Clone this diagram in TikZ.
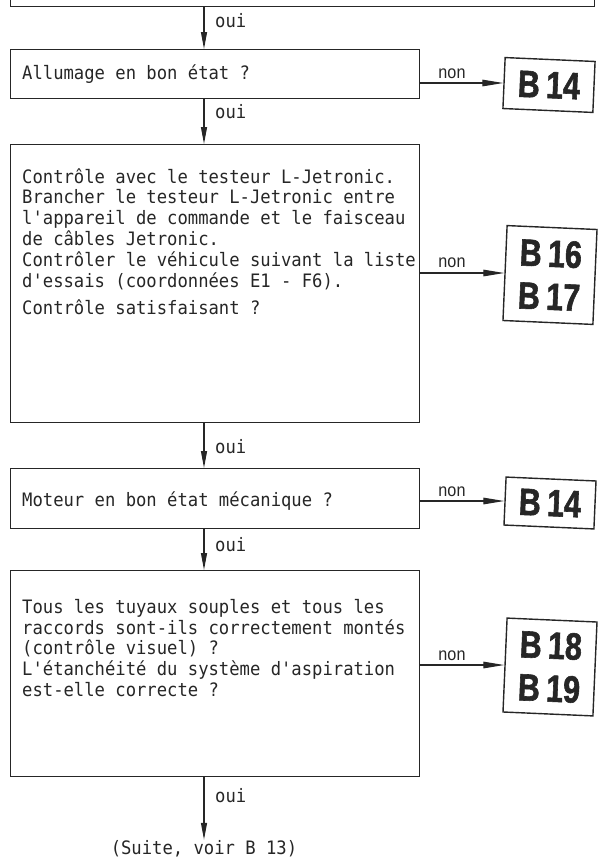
\documentclass[tikz,border=0pt]{standalone}
\usepackage{fontspec}
\setmonofont[FakeStretch=0.93]{DejaVu Sans Mono}
\newfontfamily\reffont[FakeStretch=0.8, FakeBold=1.5]{Liberation Sans Bold}
\newfontfamily\nonfont[FakeStretch=0.9]{Liberation Sans}
\usetikzlibrary{arrows.meta}
\definecolor{encre}{HTML}{262626}

\begin{document}
\begin{tikzpicture}[x=1pt, y=-1pt,
    every node/.style={text=encre},
    boite/.style={draw=encre, line width=1.2pt, rectangle, anchor=north west, minimum width=409pt, inner sep=0pt},
    texte/.style={font=\ttfamily\fontsize{18.5}{20.8}\selectfont, align=left, inner sep=0pt},
    renvoi/.style={draw=encre, line width=1.4pt, rotate=-2.5, minimum width=90pt, inner sep=0pt,
        font=\reffont\fontsize{38}{43}\selectfont, align=center},
    fleche/.style={draw=encre, line width=1.2pt, -{Triangle[length=17pt,width=6pt]}},
    flechenon/.style={draw=encre, line width=1.2pt, -{Triangle[length=21pt,width=6.5pt]}},
    oui/.style={font=\ttfamily\fontsize{18.5}{20}\selectfont, anchor=base west, inner sep=0pt},
    non/.style={font=\nonfont\fontsize{18}{20}\selectfont, anchor=base, inner sep=0pt}]

    \useasboundingbox (0,0) rectangle (604,860);
    \coordinate (axe) at (204,0);

    % boite precedente (coupee en haut)
    \node[boite, minimum width=584pt, minimum height=50pt] (prec) at (10,-44) {};

    % les questions
    \node[boite, minimum height=49pt] (q1) at (10,49) {};
    \node[texte, anchor=base west] (t1) at (22,79) {Allumage en bon état ?};

    \node[boite, minimum height=278pt] (q2) at (10,144) {};
    \node[texte, anchor=north west] (t2) at (22,168) {Contrôle avec le testeur L-Jetronic.\\
        Brancher le testeur L-Jetronic entre\\
        l'appareil de commande et le faisceau\\
        de câbles Jetronic.\\
        Contrôler le véhicule suivant la liste\\
        d'essais (coordonnées E1 - F6).\\[7pt]
        Contrôle satisfaisant ?};

    \node[boite, minimum height=60pt] (q3) at (10,468) {};
    \node[texte, anchor=base west] (t3) at (22,506) {Moteur en bon état mécanique ?};

    \node[boite, minimum height=206pt] (q4) at (10,570) {};
    \node[texte, anchor=north west] (t4) at (22,599) {Tous les tuyaux souples et tous les\\
        raccords sont-ils correctement montés\\
        (contrôle visuel) ?\\
        L'étanchéité du système d'aspiration\\
        est-elle correcte ?};

    \node[texte, anchor=base] (suite) at (204,854) {(Suite, voir B 13)};

    % renvois
    \node[renvoi, minimum height=51pt] (b1) at (549,85) {B\,14};
    \node[renvoi, minimum height=95pt] (b2) at (550,275) {B\,16\\B\,17};
    \node[renvoi, minimum height=48pt] (b3) at (550,503) {B\,14};
    \node[renvoi, minimum height=94pt] (b4) at (550,667) {B\,18\\B\,19};

    % fleches oui
    \draw[fleche] (prec.south -| axe) -- (q1.north -| axe);
    \draw[fleche] (q1.south -| axe) -- (q2.north -| axe);
    \draw[fleche] (q2.south -| axe) -- (q3.north -| axe);
    \draw[fleche] (q3.south -| axe) -- (q4.north -| axe);
    \draw[fleche] (q4.south -| axe) -- (suite.north -| axe);
    \node[oui] (o1) at (215,27) {oui};
    \node[oui] (o2) at (215,118) {oui};
    \node[oui] (o3) at (215,453) {oui};
    \node[oui] (o4) at (215,551) {oui};
    \node[oui] (o5) at (215,802) {oui};

    % fleches non
    \draw[flechenon] (b1.west -| q1.east) -- (b1.west);
    \draw[flechenon] (b2.west -| q2.east) -- (b2.west);
    \draw[flechenon] (b3.west -| q3.east) -- (b3.west);
    \draw[flechenon] (b4.west -| q4.east) -- (b4.west);
    \node[non] (n1) at (452,78) {non};
    \node[non] (n2) at (452,267) {non};
    \node[non] (n3) at (452,496) {non};
    \node[non] (n4) at (452,660) {non};
\end{tikzpicture}
\end{document}
